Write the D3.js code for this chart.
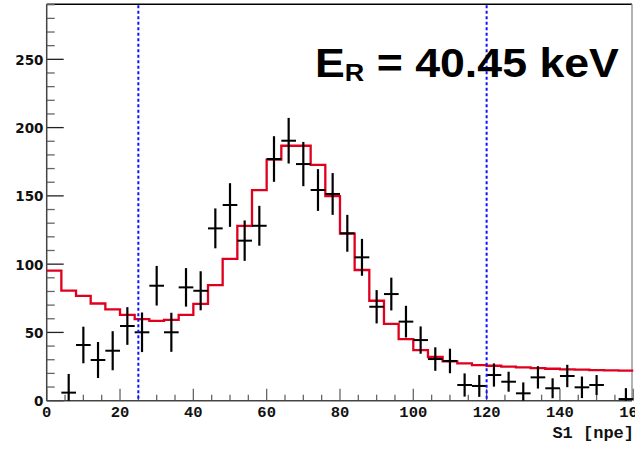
<!DOCTYPE html>
<html lang="en">
<head>
  <meta charset="UTF-8">
  <title>S1 spectrum</title>
  <script type="text/javascript" src="https://cdn.jsdelivr.net/npm/d3@7"></script>
  <style>
    body { margin: 0; background: #fff; }
  </style>
</head>
<body>
  <script type="text/javascript">

  //Width and height
  var w = 635;
  var h = 452;

  // data points: bin centres, counts and errors
  var dataX = [6, 10, 14, 18, 22, 26, 30, 34, 38, 42, 46, 50, 54, 58, 62, 66, 70, 74, 78, 82,
               86, 90, 94, 98, 102, 106, 110, 114, 118, 122, 126, 130, 134, 138, 142, 146, 150, 158];
  var dataY = [5.9, 40.8, 29.8, 36.6, 54.7, 50.1, 84.2, 50.1, 83.0, 80.5, 126.2, 143.3, 117.2, 128.1,
               177.0, 190.4, 173.3, 154.3, 151.4, 122.6, 105.0, 68.8, 78.1, 57.9, 44.4, 30.5, 29.1,
               11.5, 10.8, 18.8, 13.9, 5.4, 17.1, 9.1, 18.1, 9.8, 11.5, 1.2];
  var dataErr = [13.7, 13.4, 13.2, 14.3, 13.8, 14.5, 14.5, 14.3, 14.1, 14.3, 14.6, 16.0, 14.8, 14.6,
                 16.7, 16.7, 16.2, 15.3, 15.3, 13.5, 13.5, 12.2, 12.0, 11.6, 10.0, 8.6, 9.0,
                 8.5, 8.0, 8.5, 7.3, 8.0, 8.2, 7.3, 8.2, 7.9, 7.3, 8.0];

  // model histogram: lower bin edges and contents
  var histEdges = [0, 4, 8, 12, 16, 20, 24, 28, 32, 36, 40, 44, 48, 52, 56, 60, 64, 68, 72, 76,
                   80, 84, 88, 92, 96, 100, 104, 108, 112, 116, 120, 124, 128, 132, 136, 140, 144, 148, 152, 156];
  var histY = [95.2, 80.6, 76.8, 71.2, 66.9, 62.9, 59.8, 58.4, 59.2, 62.8, 70.9, 84.6, 103.8, 128.0,
               154.2, 176.6, 186.7, 186.7, 172.7, 149.8, 122.3, 95.7, 73.2, 56.2, 45.1, 37.1, 32.0,
               28.8, 27.4, 26.1, 25.6, 25.0, 24.4, 23.9, 23.4, 23.0, 22.7, 22.4, 22.2, 22.0];

  var cutLines = [25, 120];
  var xTicks = [0, 20, 40, 60, 80, 100, 120, 140, 160];
  var yTicks = [0, 50, 100, 150, 200, 250];

  // frame edges in pixels
  var frameL = 46.7, frameR = 632, frameT = 4.3, frameB = 400.7;

  var xScale = d3.scaleLinear().domain([0, 160]).range([frameL, frameL + 160 * 3.666]);
  var yScale = d3.scaleLinear().domain([0, 290.3]).range([frameB, frameT]);

  var svg = d3.select("body")
        .append("svg")
        .attr("width", w)
        .attr("height", h);

  // frame top / right
  svg.append("line").attr("x1", frameL).attr("x2", frameR).attr("y1", frameT).attr("y2", frameT)
     .attr("stroke", "#000").attr("stroke-width", 1.5);
  svg.append("line").attr("x1", frameR).attr("x2", frameR).attr("y1", frameT).attr("y2", frameB)
     .attr("stroke", "#999").attr("stroke-width", 1.5);

  // minor + major ticks on y
  var yMinor = d3.range(0, 291, 10);
  svg.selectAll(".ymin").data(yMinor).enter().append("line")
     .attr("x1", frameL).attr("x2", function(d) { return d % 50 == 0 ? frameL + 17 : frameL + 8; })
     .attr("y1", function(d) { return yScale(d); })
     .attr("y2", function(d) { return yScale(d); })
     .attr("stroke", function(d) { return d % 50 == 0 ? "#222" : "#666"; })
     .attr("stroke-width", 1.3);

  // ticks on x
  var xMinor = d3.range(0, 161, 5);
  svg.selectAll(".xmin").data(xMinor).enter().append("line")
     .attr("x1", function(d) { return xScale(d); })
     .attr("x2", function(d) { return xScale(d); })
     .attr("y1", frameB)
     .attr("y2", function(d) { return d % 20 == 0 ? frameB - 12 : frameB - 6; })
     .attr("stroke", "#666")
     .attr("stroke-width", 1.3);

  // axis lines
  svg.append("line").attr("x1", frameL).attr("x2", frameL).attr("y1", frameT).attr("y2", frameB)
     .attr("stroke", "#444").attr("stroke-width", 1.5);
  svg.append("line").attr("x1", frameL).attr("x2", frameR).attr("y1", frameB).attr("y2", frameB)
     .attr("stroke", "#444").attr("stroke-width", 1.5);

  // y tick labels
  svg.selectAll(".ylab").data(yTicks).enter().append("text")
     .attr("x", 43.5)
     .attr("y", function(d) { return yScale(d) + 5.5; })
     .attr("text-anchor", "end")
     .style("font-family", "DejaVu Sans")
     .style("font-weight", "bold")
     .style("font-size", "13.5px")
     .style("fill", "#111")
     .text(function(d) { return d; });

  // x tick labels
  svg.selectAll(".xlab").data(xTicks).enter().append("text")
     .attr("x", function(d) { return xScale(d); })
     .attr("y", 416.8)
     .attr("text-anchor", "middle")
     .style("font-family", "Liberation Mono")
     .style("font-weight", "bold")
     .style("font-size", "15.5px")
     .style("fill", "#111")
     .text(function(d) { return d; });

  // x axis title
  svg.append("text")
     .attr("x", 634)
     .attr("y", 437.5)
     .attr("text-anchor", "end")
     .style("font-family", "Liberation Mono")
     .style("font-weight", "bold")
     .style("font-size", "17px")
     .style("fill", "#111")
     .text("S1 [npe]");

  // model histogram (red steps)
  var histPts = histEdges.map(function(e, i) { return [e, histY[i]]; });
  histPts.push([160, histY[histY.length - 1]]);
  var step = d3.line()
     .x(function(d) { return xScale(d[0]); })
     .y(function(d) { return yScale(d[1]); })
     .curve(d3.curveStepAfter);
  svg.append("path")
     .datum(histPts)
     .attr("d", step)
     .attr("fill", "none")
     .attr("stroke", "#e0001e")
     .attr("stroke-width", 2.3);

  // data crosses
  var pts = svg.selectAll(".pt").data(dataX).enter().append("g");
  pts.append("line")
     .attr("x1", function(d) { return xScale(d - 2); })
     .attr("x2", function(d) { return xScale(d + 2); })
     .attr("y1", function(d, i) { return yScale(dataY[i]); })
     .attr("y2", function(d, i) { return yScale(dataY[i]); })
     .attr("stroke", "#000").attr("stroke-width", 2);
  pts.append("line")
     .attr("x1", function(d) { return xScale(d); })
     .attr("x2", function(d) { return xScale(d); })
     .attr("y1", function(d, i) { return yScale(Math.max(0, dataY[i] - dataErr[i])); })
     .attr("y2", function(d, i) { return yScale(dataY[i] + dataErr[i]); })
     .attr("stroke", "#000").attr("stroke-width", 2.2);

  // cut lines
  svg.selectAll(".cut").data(cutLines).enter().append("line")
     .attr("x1", function(d) { return xScale(d); })
     .attr("x2", function(d) { return xScale(d); })
     .attr("y1", frameT + 1)
     .attr("y2", frameB)
     .attr("stroke", "#1010ff")
     .attr("stroke-width", 2)
     .attr("stroke-dasharray", "3,2.5");

  // energy label
  var lab = svg.append("text")
     .attr("transform", "translate(315,76.7) scale(1.09,1)")
     .style("font-family", "Liberation Sans")
     .style("font-weight", "bold")
     .style("font-size", "41px")
     .style("fill", "#000");
  lab.append("tspan").text("E");
  lab.append("tspan").attr("dy", 4.3).style("font-size", "24.7px").text("R");
  lab.append("tspan").attr("dy", -4.3).text(" = 40.45 keV");

  </script>
</body>
</html>
